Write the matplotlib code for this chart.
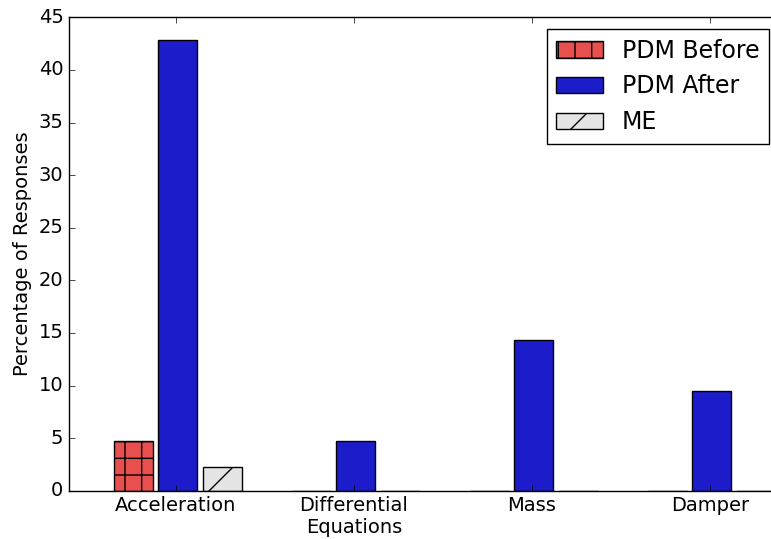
import matplotlib
matplotlib.use('Agg')
import matplotlib.pyplot as plt
import numpy as np

# data
categories = ['Acceleration', 'Differential\nEquations', 'Mass', 'Damper']
pdm_before = [4.76, 0, 0, 0]
pdm_after = [42.86, 4.76, 14.29, 9.52]
me = [2.22, 0, 0, 0]
series_names = ['PDM Before', 'PDM After', 'ME']

plt.style.use('classic')
plt.rcParams['font.family'] = 'DejaVu Sans'

fig = plt.figure(figsize=(7.71, 5.39), dpi=100, facecolor='white')
# axes run a bit past the right edge (reference is cropped there)
ax = fig.add_axes([69 / 771, 48.3 / 539, 712 / 771, 473.4 / 539])

ind = np.arange(len(categories))
width = 0.22
ax.bar(ind - 0.24, pdm_before, width, color='#e84f4f', edgecolor='k', hatch='+', label=series_names[0])
ax.bar(ind + 0.01, pdm_after, width, color='#1c1ccb', edgecolor='k', label=series_names[1])
ax.bar(ind + 0.26, me, width, color='#e4e4e4', edgecolor='k', hatch='/', label=series_names[2])

ax.set_xlim(-0.6, 3.4)
ax.set_ylim(0, 45)
ax.set_xticks(ind)
ax.set_xticklabels(categories, fontsize=14)
ax.tick_params(axis='y', labelsize=14)
ax.set_ylabel('Percentage of Responses', fontsize=14)

ax.legend(loc='upper right', fontsize=17, handlelength=2.0)

fig.savefig('out.png', dpi=100, facecolor='white')
